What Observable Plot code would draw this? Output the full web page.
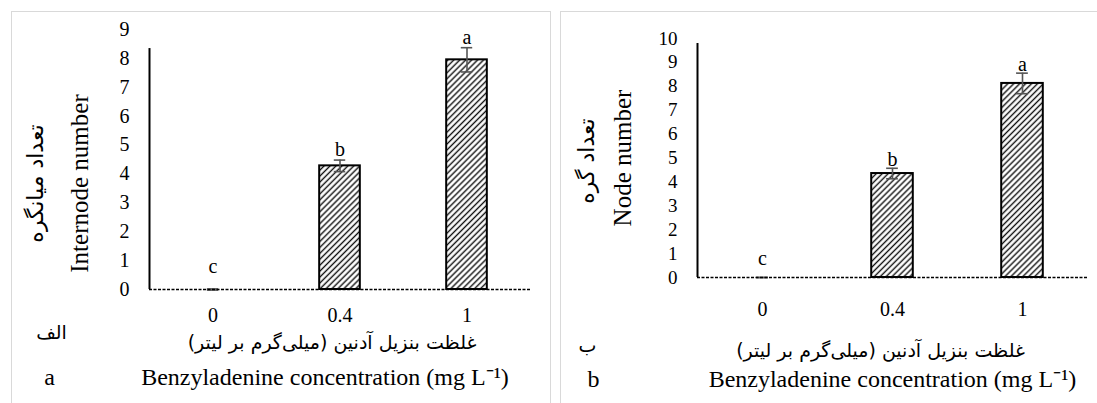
<!DOCTYPE html>
<html>
<head>
<meta charset="utf-8">
<script src="https://cdn.jsdelivr.net/npm/d3@7"></script>
<script src="https://cdn.jsdelivr.net/npm/@observablehq/plot@0.6"></script>
<style>
  body { margin: 0; background: #fff; }
  #page { position: relative; width: 1097px; height: 403px; overflow: hidden; background: #fff; }
  .panel { position: absolute; border: 1px solid #d9d9d9; box-sizing: border-box; }
  #chartA { position: absolute; left: 0; top: 0; }
  #chartB { position: absolute; left: 548px; top: 0; }
</style>
</head>
<body>
<div id="page">
  <div class="panel" style="left:11px;top:11px;width:540px;height:420px"></div>
  <div class="panel" style="left:560px;top:11px;width:560px;height:420px"></div>
  <div id="chartA"></div>
  <div id="chartB"></div>
</div>
<script>
// ---- data ----
const concentrations = ["0", "0.4", "1"];
const internodeMean = [0, 4.28, 7.95];
const internodeSE = [0.02, 0.20, 0.42];
const internodeLetters = ["c", "b", "a"];
const nodeMean = [0, 4.35, 8.12];
const nodeSE = [0, 0.22, 0.43];
const nodeLetters = ["c", "b", "a"];
const internodeTicks = [0, 1, 2, 3, 4, 5, 6, 7, 8, 9];
const nodeTicks = [0, 1, 2, 3, 4, 5, 6, 7, 8, 9, 10];

const xTitleFa = "\u200Fغلظت بنزیل آدنین (میلی‌گرم بر لیتر)\u200F";
const xTitleEn = "Benzyladenine concentration (mg L\u207B\u00B9)";

function makeChart(cfg) {
  const rows = concentrations.map((c, i) => ({
    i, c, mean: cfg.means[i], lo: cfg.means[i] - cfg.ses[i], hi: cfg.means[i] + cfg.ses[i], letter: cfg.letters[i]
  }));
  const hw = 0.16, cap = 0.045;
  const serif = "Liberation Serif, Times New Roman, serif";
  const fa = "DejaVu Sans";
  const mid = { textAnchor: "middle", lineAnchor: "middle" };
  const svg = Plot.plot({
    width: cfg.width, height: 403,
    marginLeft: 149, marginRight: cfg.marginRight, marginTop: cfg.marginTop, marginBottom: cfg.marginBottom,
    style: { fontFamily: serif, fontSize: "20px", color: "#000", background: "transparent", overflow: "visible" },
    x: { domain: [-0.5, 2.5] },
    y: { domain: [0, cfg.yMax] },
    marks: [
      Plot.rectY(rows, { x1: d => d.i - hw, x2: d => d.i + hw, y1: 0, y2: "mean", fill: `url(#${cfg.hatch})`, stroke: "#000", strokeWidth: 2 }),
      Plot.ruleX(rows, { x: "i", y1: "lo", y2: "hi", stroke: "#555", strokeWidth: 1.6 }),
      Plot.ruleY(rows, { y: "hi", x1: d => d.i - cap, x2: d => d.i + cap, stroke: "#555", strokeWidth: 1.6 }),
      Plot.ruleY(rows, { y: "lo", x1: d => d.i - cap, x2: d => d.i + cap, stroke: "#555", strokeWidth: 1.6 }),
      Plot.ruleY([0], { stroke: "#000", strokeWidth: 1.6, strokeDasharray: "3,1.5" }),
      Plot.ruleX([-0.5], { y1: 0, y2: cfg.axisTop, stroke: "#000", strokeWidth: 2 }),
      Plot.axisY({ ticks: cfg.ticks, tickSize: 0, tickPadding: 20, fontSize: cfg.tickFont, label: null }),
      Plot.axisX({ ticks: [], label: null }),
      // category tick labels under the baseline
      Plot.text(rows, { x: "i", text: "c", frameAnchor: "bottom", dy: cfg.xTickDy, fontSize: 20, ...mid }),
      Plot.text(rows, { x: "i", y: d => Math.max(d.hi, 0.45) + 0.35, text: "letter", fontSize: 20 }),
      Plot.text([cfg.yTitleEn], { text: d => d, frameAnchor: "left", rotate: -90, dx: cfg.yEnDx, dy: cfg.yEnDy, fontSize: 25, ...mid }),
      Plot.text([cfg.yTitleFa], { text: d => d, frameAnchor: "left", rotate: -90, dx: cfg.yFaDx, dy: cfg.yFaDy, fontSize: 22, fontFamily: fa, ...mid }),
      Plot.text([xTitleFa], { text: d => d, frameAnchor: "bottom", dx: cfg.xFaDx, dy: cfg.xFaDy, fontSize: 19, fontFamily: fa, ...mid }),
      Plot.text([xTitleEn], { text: d => d, frameAnchor: "bottom", dx: cfg.xEnDx, dy: cfg.xEnDy, fontSize: 24, ...mid }),
      Plot.text([cfg.panelFa], { text: d => d, frameAnchor: "bottom-left", dx: cfg.panelFaDx, dy: cfg.panelFaDy, fontSize: 19, fontFamily: fa, ...mid }),
      Plot.text([cfg.panelEn], { text: d => d, frameAnchor: "bottom-left", dx: cfg.panelEnDx, dy: cfg.xEnDy, fontSize: 24, ...mid })
    ]
  });
  d3.select(svg).insert("defs", ":first-child").html(
    `<pattern id="${cfg.hatch}" patternUnits="userSpaceOnUse" width="4.2" height="4.2" patternTransform="rotate(45)">` +
    `<rect width="4.2" height="4.2" fill="#fff"/><line x1="2.1" y1="0" x2="2.1" y2="4.2" stroke="#111" stroke-width="1.4"/></pattern>`
  );
  return svg;
}

document.getElementById("chartA").appendChild(makeChart({
  width: 548, marginRight: 18, marginTop: 29, marginBottom: 114,
  means: internodeMean, ses: internodeSE, letters: internodeLetters,
  yMax: 9, ticks: internodeTicks, axisTop: 8.34, tickFont: 20, xTickDy: 26,
  hatch: "hatchA",
  yTitleEn: "Internode number", yEnDx: -70, yEnDy: 24,
  yTitleFa: "\u200Fتعداد میانگره\u200F", yFaDx: -114, yFaDy: 24,
  xFaDx: -8, xFaDy: 53, xEnDx: -15, xEnDy: 88,
  panelFa: "\u200Fالف\u200F", panelFaDx: -98, panelFaDy: 43,
  panelEn: "a", panelEnDx: -100
}));

document.getElementById("chartB").appendChild(makeChart({
  width: 549, marginRight: 10, marginTop: 38, marginBottom: 126,
  means: nodeMean, ses: nodeSE, letters: nodeLetters,
  yMax: 10, ticks: nodeTicks, axisTop: 9.79, tickFont: 19, xTickDy: 32,
  hatch: "hatchB",
  yTitleEn: "Node number", yEnDx: -75, yEnDy: 0,
  yTitleFa: "\u200Fتعداد گره\u200F", yFaDx: -111, yFaDy: 3,
  xFaDx: -12, xFaDy: 73, xEnDx: 0, xEnDy: 102,
  panelFa: "\u200Fب\u200F", panelFaDx: -110, panelFaDy: 68,
  panelEn: "b", panelEnDx: -104
}));
</script>
</body>
</html>
